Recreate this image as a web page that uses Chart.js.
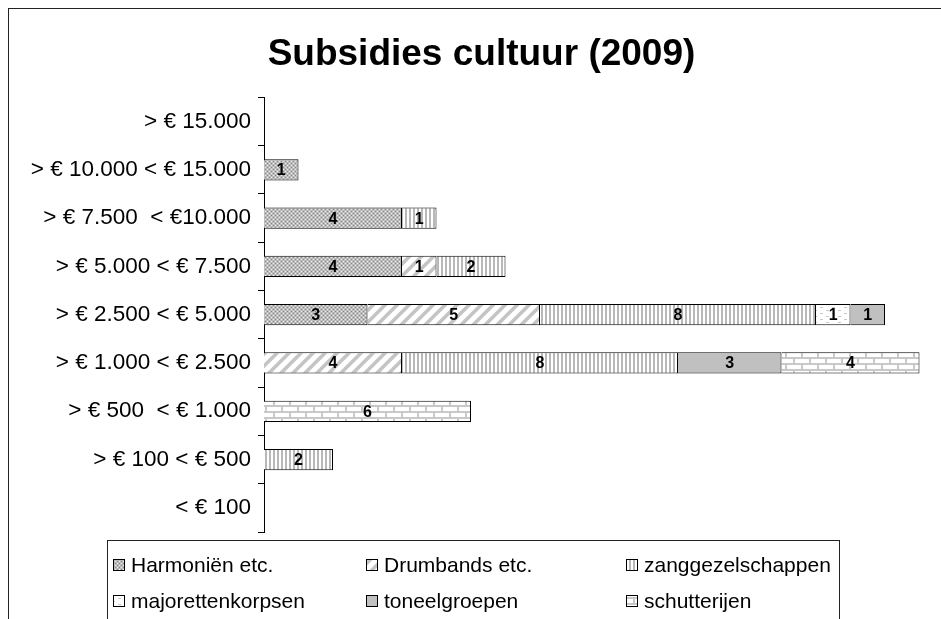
<!DOCTYPE html>
<html>
<head>
<meta charset="utf-8">
<script src="https://cdn.jsdelivr.net/npm/chart.js@4/dist/chart.umd.min.js"></script>
<style>
  html, body { margin:0; padding:0; background:#fff; overflow:hidden; width:941px; height:619px; }
  #frame { position:absolute; left:8px; top:8px; width:945px; height:640px; border:1px solid #222; }
  #chart { display:block; }
</style>
</head>
<body>
<div id="frame"><canvas id="chart" width="945" height="630"></canvas></div>
<script>
const categories = ['> € 15.000', '> € 10.000 < € 15.000', '> € 7.500  < €10.000', '> € 5.000 < € 7.500',
  '> € 2.500 < € 5.000', '> € 1.000 < € 2.500', '> € 500  < € 1.000', '> € 100 < € 500', '< € 100'];
const seriesNames = ['Harmoniën etc.', 'Drumbands etc.', 'zanggezelschappen', 'majorettenkorpsen', 'toneelgroepen', 'schutterijen'];
const harmonieen       = [0, 1, 4, 4, 3, 0, 0, 0, 0];
const drumbands        = [0, 0, 0, 1, 5, 4, 0, 0, 0];
const zanggezelschap   = [0, 0, 1, 2, 8, 8, 0, 2, 0];
const majoretten       = [0, 0, 0, 0, 1, 0, 0, 0, 0];
const toneelgroepen    = [0, 0, 0, 0, 1, 3, 0, 0, 0];
const schutterijen     = [0, 0, 0, 0, 0, 4, 6, 0, 0];
const xMax = 20;

function makePattern(w, h, draw){
  const c = document.createElement('canvas'); c.width = w; c.height = h;
  const g = c.getContext('2d'); draw(g);
  return g.createPattern(c, 'repeat');
}
const fills = [
  makePattern(4, 4, g => {          // fijn ruitjes
    g.fillStyle = '#bdbdbd'; g.fillRect(0,0,4,4);
    g.fillStyle = '#858585'; g.fillRect(0,0,1,1); g.fillRect(2,2,1,1);
    g.fillStyle = '#ebebeb'; g.fillRect(2,0,1,1); g.fillRect(0,2,1,1);
  }),
  makePattern(12, 12, g => {        // schuine strepen
    g.fillStyle = '#fff'; g.fillRect(0,0,12,12);
    g.strokeStyle = '#c4c4c4'; g.lineWidth = 3.5;
    [[-6,6,6,-6],[0,12,12,0],[6,18,18,6]].forEach(([a,b,c2,d]) => { g.beginPath(); g.moveTo(a,b); g.lineTo(c2,d); g.stroke(); });
  }),
  makePattern(4, 1, g => {          // verticale strepen
    g.fillStyle = '#fff'; g.fillRect(0,0,4,1);
    g.fillStyle = '#b8b8b8'; g.fillRect(0,0,2,1);
  }),
  makePattern(12, 6, g => {         // streepjes
    g.fillStyle = '#fff'; g.fillRect(0,0,12,6);
    g.fillStyle = '#c8c8c8'; g.fillRect(1,1,3,1); g.fillRect(7,4,3,1);
  }),
  '#c0c0c0',
  makePattern(16, 12, g => {        // baksteen
    g.fillStyle = '#fff'; g.fillRect(0,0,16,12);
    g.fillStyle = '#c8c8c8';
    g.fillRect(0,0,16,2); g.fillRect(0,6,16,2); g.fillRect(0,0,2,6); g.fillRect(8,6,2,6);
  })
];
const seriesData = [harmonieen, drumbands, zanggezelschap, majoretten, toneelgroepen, schutterijen];

const FONT = "'Liberation Sans', Arial, sans-serif";

const barLabels = {
  id: 'barLabels',
  afterDatasetsDraw(chart){
    const ctx = chart.ctx;
    ctx.save();
    ctx.font = 'bold 16px ' + FONT; ctx.fillStyle = '#000';
    ctx.textAlign = 'center'; ctx.textBaseline = 'middle';
    chart.data.datasets.forEach((ds, i) => {
      chart.getDatasetMeta(i).data.forEach((el, j) => {
        const v = ds.data[j];
        if (!v) return;
        const p = el.getCenterPoint();
        ctx.fillText(String(v), p.x, p.y + 1);
      });
    });
    ctx.restore();
  }
};

const boxLegend = {
  id: 'boxLegend',
  afterDraw(chart){
    const ctx = chart.ctx;
    const left = 98, top = 531, right = 830, bottom = 625;
    ctx.save();
    ctx.strokeStyle = '#222'; ctx.lineWidth = 1;
    ctx.strokeRect(left + 0.5, top + 0.5, right - left, bottom - top);
    ctx.font = '21px ' + FONT; ctx.textBaseline = 'middle'; ctx.textAlign = 'left'; ctx.fillStyle = '#000';
    const cols = [104, 357, 617], rows = [556, 592];
    chart.data.datasets.forEach((ds, i) => {
      const x = cols[i % 3], y = rows[Math.floor(i / 3)];
      ctx.fillStyle = ds.backgroundColor;
      ctx.fillRect(x, y - 6, 12, 12);
      ctx.strokeStyle = '#000';
      ctx.strokeRect(x + 0.5, y - 5.5, 11, 11);
      ctx.fillStyle = '#000';
      ctx.fillText(ds.label, x + 18, y + 1);
    });
    ctx.restore();
  }
};

new Chart(document.getElementById('chart'), {
  type: 'bar',
  data: {
    labels: categories,
    datasets: seriesNames.map((name, i) => ({
      label: name,
      data: seriesData[i].map(v => v || null),
      backgroundColor: fills[i],
      borderColor: '#000',
      borderWidth: 1,
      borderSkipped: 'start',
      categoryPercentage: 1,
      barPercentage: 0.44
    }))
  },
  options: {
    indexAxis: 'y',
    responsive: false,
    animation: false,
    layout: { padding: { top: 0, left: 0, right: 0, bottom: 107 } },
    plugins: {
      legend: { display: false },
      tooltip: { enabled: false },
      title: {
        display: true,
        text: 'Subsidies cultuur (2009)',
        color: '#000',
        font: { family: FONT, size: 37, weight: 'bold' },
        padding: { top: 24, bottom: 20 }
      }
    },
    scales: {
      x: { display: false, stacked: true, min: 0, max: xMax },
      y: {
        stacked: true,
        afterFit: s => { s.width = 255; },
        border: { display: true, color: '#000', width: 1 },
        grid: { offset: true, drawOnChartArea: false, drawTicks: true, tickLength: 6, color: '#000' },
        ticks: { color: '#000', padding: 7, font: { family: FONT, size: 22.5 } }
      }
    }
  },
  plugins: [barLabels, boxLegend]
});
</script>
</body>
</html>
